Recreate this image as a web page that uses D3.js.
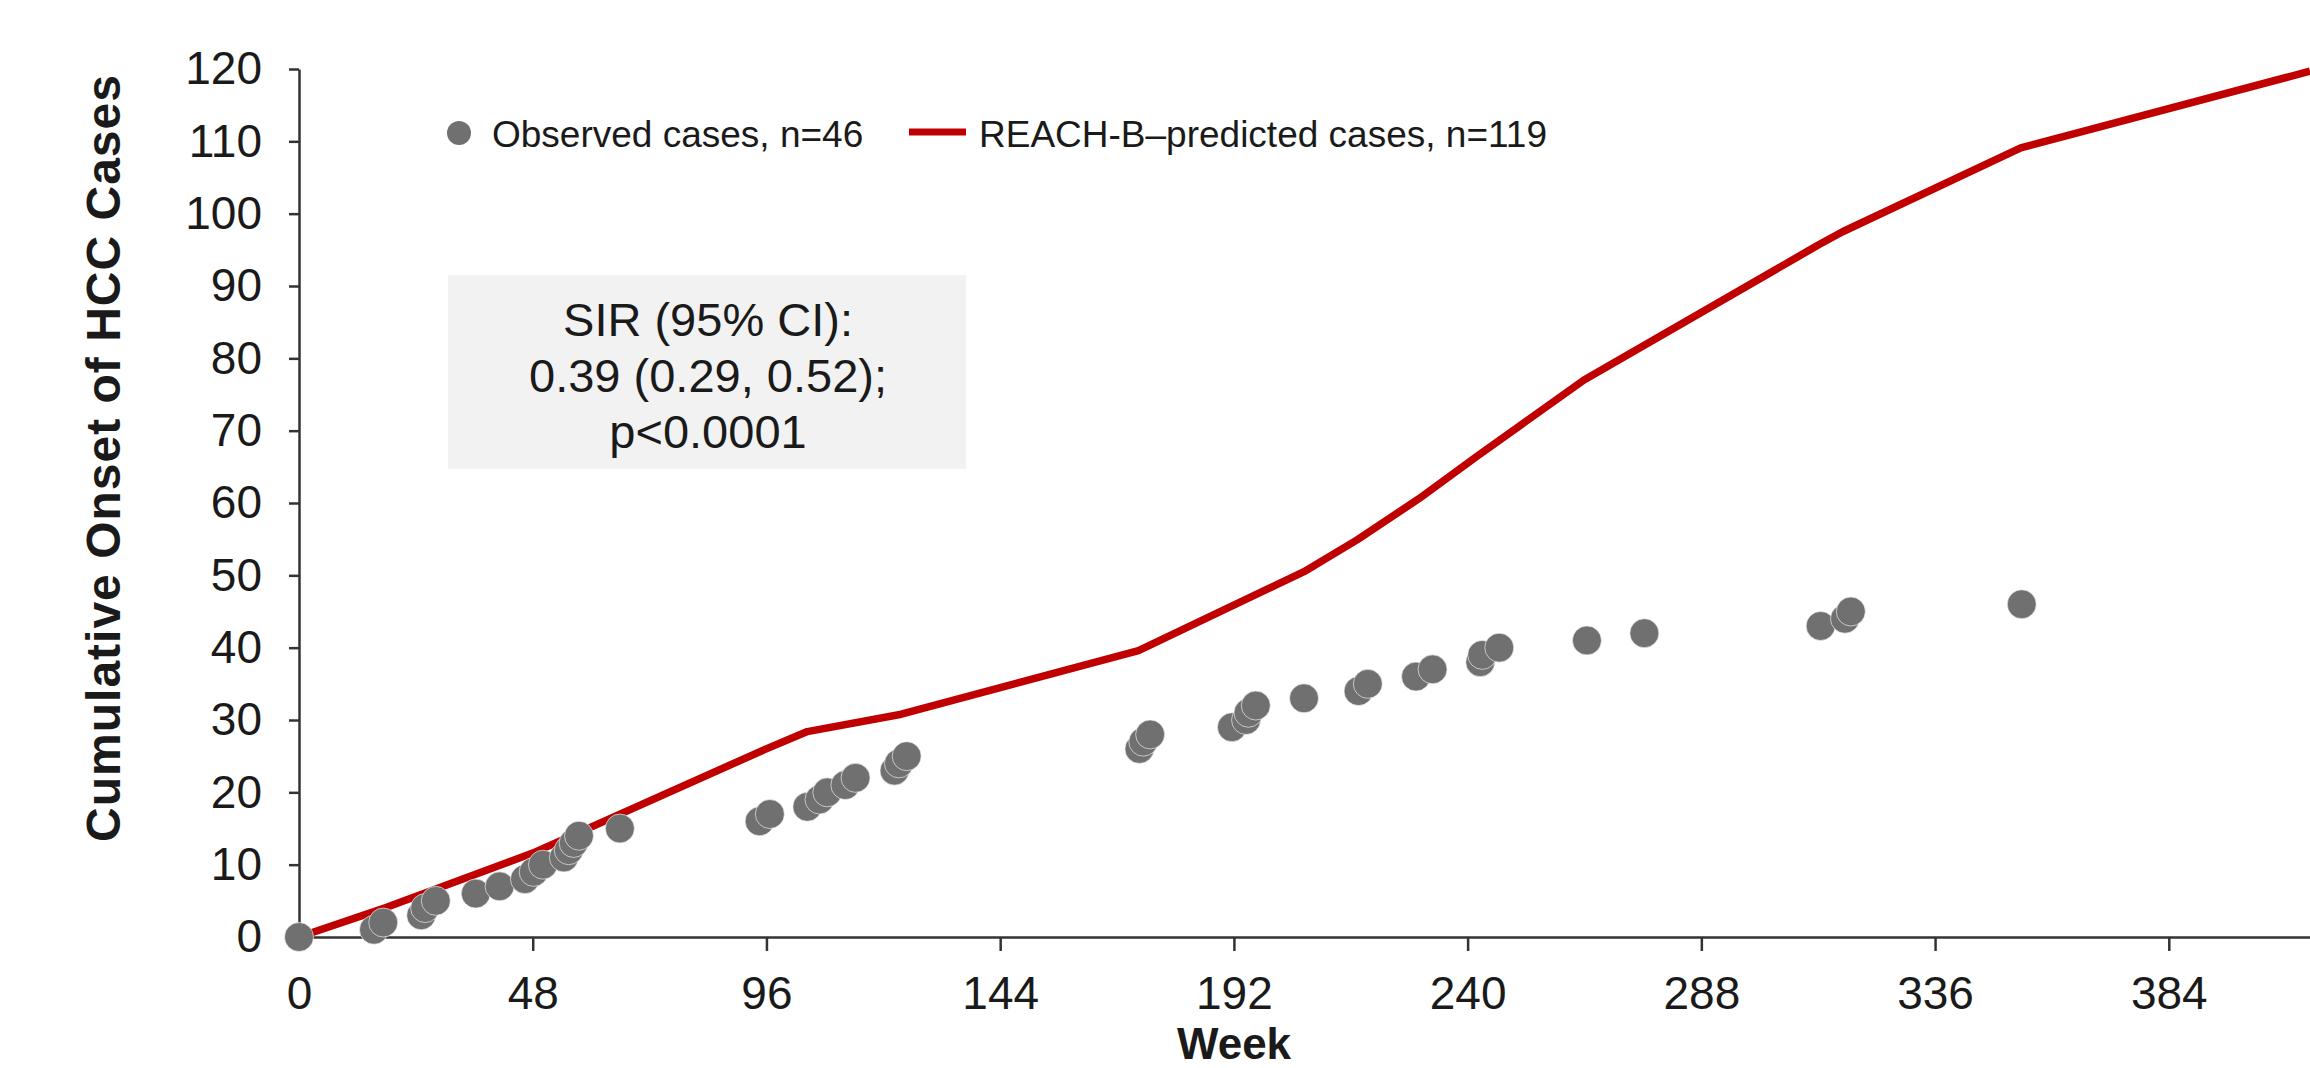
<!DOCTYPE html>
<html>
<head>
<meta charset="utf-8">
<script src="https://cdn.jsdelivr.net/npm/d3@7"></script>
<style>
  body { margin: 0; background: #fff; }
  text { font-family: "Liberation Sans", Arial, sans-serif; fill: #1a1a1a; }
  .axis path, .axis line { stroke: #333; stroke-width: 2.5; }
  .axis text { font-size: 46px; }
</style>
</head>
<body>
<div id="chart"></div>
<script>
/* Cumulative onset of HCC cases: observed vs REACH-B predicted */

const width = 2310,
    height = 1068,
    margin = ({ top: 69, right: 0, bottom: 131, left: 299 });

// Observed cases (grey dots)
const obsWeek = [0, 15.4, 17.3, 25.1, 25.9, 28.1, 36.3, 41.2, 46.4, 48.2, 50.1, 54.4, 55.4, 56.4, 57.5, 65.9,
    94.6, 96.7, 104.4, 106.9, 108.5, 112.2, 114.3, 122.3, 123.2, 124.8, 172.6, 173.4, 174.8, 191.6, 194.5,
    195, 196.5, 206.4, 217.6, 219.5, 229.4, 232.8, 242.6, 243, 246.5, 264.5, 276.3, 312.5, 317.5, 318.7, 353.8];
const obsCases = [0, 1, 2, 3, 4, 5, 6, 7, 8, 9, 10, 11, 12, 13, 14, 15, 16, 17, 18, 19, 20, 21, 22, 23, 24,
    25, 26, 27, 28, 29, 30, 31, 32, 33, 34, 35, 36, 37, 38, 39, 40, 41, 42, 43, 44, 45, 46];

// REACH-B predicted cases (red line)
const predWeek = [0, 18, 48, 95.6, 104.4, 123.7, 172.4, 206.4, 217.3, 230, 242, 263.9, 312.1, 317, 353.6, 413];
const predCases = [0, 4.1, 11.6, 25.9, 28.4, 30.8, 39.6, 50.5, 54.9, 60.6, 66.5, 77, 95.7, 97.5, 109.1, 119.7];

const xTicks = [0, 48, 96, 144, 192, 240, 288, 336, 384];
const yTicks = [0, 10, 20, 30, 40, 50, 60, 70, 80, 90, 100, 110, 120];

const boxLines = ["SIR (95% CI):", "0.39 (0.29, 0.52);", "p<0.0001"];

const obs = obsWeek.map((w, i) => ({ week: w, cases: obsCases[i] }));
const pred = predWeek.map((w, i) => ({ week: w, cases: predCases[i] }));

const svg = d3.select("#chart")
    .append("svg")
    .attr("width", width)
    .attr("height", height)
    .attr("viewBox", [0, 0, width, height]);

let x = d3.scaleLinear()
    .domain([0, 413])
    .range([margin.left, width - margin.right]);

let y = d3.scaleLinear()
    .domain([0, 120])
    .range([height - margin.bottom, margin.top]);

// Y axis
svg.append("g")
    .attr("class", "axis")
    .attr("transform", `translate(${margin.left},0)`)
    .call(d3.axisLeft(y).tickValues(yTicks).tickSize(10).tickSizeOuter(0).tickPadding(27));

// X axis
svg.append("g")
    .attr("class", "axis")
    .attr("transform", `translate(0,${height - margin.bottom})`)
    .call(d3.axisBottom(x).tickValues(xTicks).tickSize(14).tickSizeOuter(0).tickPadding(25));

// Axis titles
svg.append("text")
    .attr("text-anchor", "middle")
    .attr("transform", "translate(120,458) rotate(-90)")
    .style("font-size", "48px")
    .style("font-weight", "bold")
    .style("letter-spacing", "1px")
    .text("Cumulative Onset of HCC Cases");

svg.append("text")
    .attr("text-anchor", "middle")
    .attr("x", 1234)
    .attr("y", 1058.5)
    .style("font-size", "44px")
    .style("font-weight", "bold")
    .text("Week");

// SIR box
svg.append("rect")
    .attr("x", 448)
    .attr("y", 275)
    .attr("width", 518)
    .attr("height", 194)
    .attr("fill", "#f2f2f2");

svg.append("g")
    .selectAll("text")
    .data(boxLines)
    .join("text")
    .attr("text-anchor", "middle")
    .attr("x", 708)
    .attr("y", (d, i) => 336 + i * 56)
    .style("font-size", "47px")
    .text(d => d);

// Predicted line
let line = d3.line()
    .x(d => x(d.week))
    .y(d => y(d.cases));

svg.append("path")
    .datum(pred)
    .attr("d", line)
    .attr("fill", "none")
    .attr("stroke", "#c00000")
    .attr("stroke-width", 7.5)
    .attr("stroke-linejoin", "round");

// Observed dots
svg.append("g")
    .selectAll("circle")
    .data(obs)
    .join("circle")
    .attr("cx", d => x(d.week))
    .attr("cy", d => y(d.cases))
    .attr("r", 14.5)
    .attr("fill", "#707070")
    .attr("stroke", "#fff")
    .attr("stroke-width", 1)
    .attr("stroke-opacity", 0.6);

// Legend
const legend = svg.append("g");

legend.append("circle")
    .attr("cx", 459)
    .attr("cy", 133)
    .attr("r", 12)
    .attr("fill", "#707070");

legend.append("text")
    .attr("x", 492)
    .attr("y", 147)
    .style("font-size", "37px")
    .text("Observed cases, n=46");

legend.append("line")
    .attr("x1", 909)
    .attr("x2", 966)
    .attr("y1", 132)
    .attr("y2", 132)
    .attr("stroke", "#c00000")
    .attr("stroke-width", 7);

legend.append("text")
    .attr("x", 979)
    .attr("y", 147)
    .style("font-size", "37px")
    .text("REACH-B\u2013predicted cases, n=119");
</script>
</body>
</html>
